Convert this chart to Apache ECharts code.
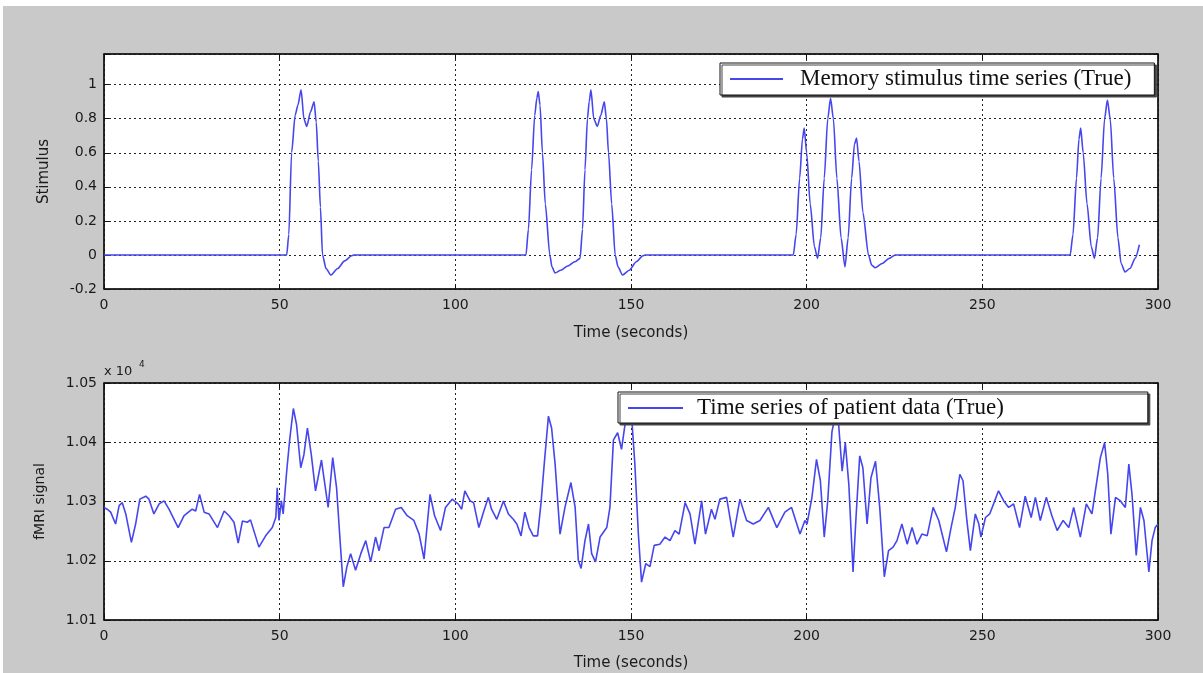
<!DOCTYPE html>
<html>
<head>
<meta charset="utf-8">
<title>Stimulus and fMRI signal</title>
<script src="https://cdn.jsdelivr.net/npm/echarts@6/dist/echarts.min.js"></script>
<style>
  html, body { margin: 0; padding: 0; background: #ffffff; }
  #main { position: absolute; left: 3px; top: 6px; width: 1200px; height: 667px; }
</style>
</head>
<body>
<div id="main"></div>
<script>
// 上图：记忆刺激时间序列（秒, 值）
var stimTime = [0, 52.0, 52.6, 53.4, 54.4, 55.2, 56.1, 56.9, 57.7, 58.8, 59.8, 60.4, 61.0, 61.6, 62.2, 63.2, 64.6, 66.5, 68.5, 70.5, 71,
  120.1, 120.8, 121.7, 122.6, 123.2, 123.6, 124.1, 124.8, 125.6, 126.9, 127.5, 128.4, 130, 132, 134, 135.5,
  136.2, 136.9, 137.6, 138.1, 138.6, 139.4, 140.4, 141.4, 142.4, 143.0, 143.6, 144.5, 145.5, 146.3, 147.6, 149.5, 151.5, 153.4, 154,
  196.2, 197.0, 198.0, 198.8, 199.3, 200.0, 201.0, 202.2, 203.1, 204.0, 205.0, 206.0, 206.8, 207.6, 208.6, 209.8, 210.9,
  211.8, 212.8, 213.6, 214.2, 214.9, 216.0, 217.6, 218.5, 219.5, 221.5, 223.5, 225.2,
  275.0, 275.8, 276.8, 277.5, 278.0, 278.7, 279.8, 281.0, 281.9, 282.8, 283.8, 284.8, 285.6, 286.4, 287.4, 288.6, 289.5, 290.6, 292.0, 293.5, 294.7];
var stimValue = [0, 0, 0.12, 0.6, 0.82, 0.88, 0.97, 0.8, 0.755, 0.84, 0.90, 0.78, 0.55, 0.28, 0, -0.08, -0.118, -0.08, -0.035, -0.005, 0,
  0, 0.15, 0.5, 0.82, 0.92, 0.96, 0.88, 0.6, 0.3, 0, -0.07, -0.106, -0.09, -0.065, -0.04, -0.02,
  0.15, 0.5, 0.8, 0.9, 0.97, 0.8, 0.755, 0.82, 0.90, 0.8, 0.6, 0.3, 0, -0.07, -0.118, -0.09, -0.04, -0.005, 0,
  0, 0.12, 0.45, 0.68, 0.745, 0.6, 0.3, 0.05, -0.02, 0.1, 0.45, 0.8, 0.92, 0.8, 0.45, 0.1, -0.07,
  0.1, 0.45, 0.65, 0.686, 0.55, 0.25, 0, -0.06, -0.075, -0.05, -0.02, 0,
  0, 0.12, 0.45, 0.68, 0.745, 0.6, 0.3, 0.05, -0.02, 0.1, 0.45, 0.8, 0.91, 0.8, 0.45, 0.1, -0.05, -0.1, -0.08, -0.02, 0.06];

// 下图：病人fMRI信号
var fmriTime = [0, 0.9, 1.9, 3.3, 4.3, 5.2, 6.2, 7.8, 9.0, 10.2, 11.9, 12.8, 14.2, 15.7, 17.1, 18.5, 21.1, 22.8, 25.1, 26.1,
  27.2, 28.5, 29.9, 32.3, 34.2, 35.6, 37.0, 38.2, 39.4, 40.8, 41.7, 44.1, 46.0, 47.9, 48.9, 49.3, 49.8, 50.5, 51.0, 52.0,
  52.9, 53.9, 54.8, 56.0, 56.9, 57.9, 59.0, 60.2, 61.9, 62.6, 63.8, 65.1, 66.2, 67.2, 68.1, 69.1, 70.2, 71.6, 73.1, 74.5,
  75.9, 77.3, 78.3, 79.7, 81.1, 83.0, 84.6, 86.3, 88.2, 89.7, 91.1, 92.8, 94.1, 95.8, 97.2, 99.1,
  99.9, 100.8, 101.8, 102.7, 104.2, 105.2, 106.7, 108.0, 109.4, 110.3, 111.8, 113.7, 115.1, 116.5, 117.5, 118.7, 119.8,
  121.0, 122.2, 123.4, 124.4, 125.3, 126.5, 127.4, 128.4, 129.8, 131.2, 132.9, 134.1, 135.0, 135.8, 136.9, 137.9, 138.8,
  139.9, 141.2, 143.1, 144.0, 145.0, 146.2, 147.3, 148.3, 149.2, 150.2, 151.1, 152.1, 153.0, 154.2, 155.4, 156.6, 158.2,
  159.7, 161.1, 162.5, 163.7, 165.4, 166.8, 168.2, 170.1, 171.2, 172.9, 173.9, 175.3, 177.2, 179.1, 181.0, 182.9, 184.8,
  186.7, 189.1, 191.5, 193.8, 195.7, 198.1, 199.5,
  200.1, 201.5, 202.8, 203.9, 205.0, 206.0, 207.2, 208.2, 209.1, 210.1, 211.0, 212.0, 213.2, 214.1, 215.1, 216.0, 217.2,
  218.3, 219.6, 220.8, 222.1, 223.3, 224.6, 225.7, 227.1, 228.6, 230.0, 231.4, 232.8, 234.3, 236.0, 237.6, 239.8, 241.1,
  242.3, 243.6, 244.5, 245.6, 246.6, 248.0, 249.0, 249.6, 250.9, 252.1, 253.2, 254.6, 256.1, 257.5, 258.9, 260.6, 262.2,
  263.9, 265.1, 266.5, 268.2, 269.8, 271.3, 273.0, 274.6, 276.0, 277.9, 279.6, 281.2, 282.6, 283.6, 284.8, 285.7, 286.6,
  287.9, 289.3, 290.7, 291.7, 292.6, 293.8, 295.0, 296.0, 297.4, 298.3, 299.2, 300.0];
var fmriValue = [10290, 10287, 10282, 10262, 10293, 10298, 10279, 10231, 10262, 10304, 10309, 10304, 10279, 10296, 10301, 10287, 10256, 10276, 10287, 10284,
  10312, 10282, 10279, 10256, 10284, 10276, 10265, 10230, 10267, 10265, 10269, 10223, 10242, 10256, 10273, 10323, 10268, 10301, 10279, 10351,
  10407, 10457, 10430, 10357, 10379, 10424, 10379, 10318, 10370, 10340, 10290, 10374, 10323, 10234, 10156, 10189, 10212, 10184, 10212, 10234,
  10198, 10240, 10217, 10256, 10256, 10287, 10290, 10276, 10268, 10245, 10203, 10312, 10276, 10251, 10290, 10304,
  10300, 10296, 10287, 10318, 10301, 10298, 10256, 10282, 10307, 10287, 10270, 10301, 10279, 10270, 10262, 10242, 10282,
  10256, 10242, 10242, 10298, 10363, 10444, 10424, 10363, 10245, 10290, 10332, 10290, 10201, 10187, 10234, 10262, 10212,
  10198, 10240, 10256, 10290, 10404, 10416, 10388, 10430, 10441, 10441, 10363, 10245, 10164, 10195, 10190, 10226, 10228,
  10240, 10234, 10251, 10245, 10298, 10279, 10228, 10301, 10245, 10287, 10270, 10304, 10307, 10240, 10304, 10268, 10262,
  10268, 10290, 10256, 10282, 10290, 10245, 10268,
  10262, 10307, 10371, 10335, 10240, 10301, 10418, 10446, 10430, 10351, 10399, 10329, 10181, 10279, 10377, 10357, 10262,
  10340, 10368, 10290, 10173, 10217, 10223, 10234, 10262, 10228, 10256, 10228, 10245, 10242, 10290, 10268, 10215, 10256,
  10290, 10346, 10335, 10268, 10217, 10279, 10262, 10240, 10273, 10279, 10296, 10318, 10301, 10290, 10296, 10256, 10309,
  10273, 10307, 10268, 10307, 10276, 10251, 10268, 10256, 10290, 10240, 10296, 10279, 10335, 10374, 10399, 10346, 10245,
  10307, 10301, 10290, 10363, 10312, 10209, 10290, 10268, 10181, 10234, 10256, 10262];

var stimName = 'Memory stimulus time series (True)';
var fmriName = 'Time series of patient data (True)';

function zip (xs, ys) {
  var out = [];
  for (var i = 0; i < xs.length; i++) {
    out.push([xs[i], ys[i]]);
  }
  return out;
}

var myChart = echarts.init(document.getElementById('main'));

var sans = 'DejaVu Sans';
var serif = 'Liberation Serif';
var lineBlue = '#4646ee';
var gridDot = { color: '#222', width: 1, type: [2, 3] };

// 主坐标轴
function mainX (gridIndex) {
  return {
    type: 'value', gridIndex: gridIndex, min: 0, max: 300, interval: 50,
    name: 'Time (seconds)', nameLocation: 'middle', nameGap: gridIndex === 0 ? 37 : 36,
    nameTextStyle: { fontFamily: sans, fontSize: 15, color: '#1a1a1a' },
    axisLine: { show: true, onZero: false, lineStyle: { color: '#111', width: 1.5 } },
    axisTick: { show: true, inside: true, length: 5, lineStyle: { color: '#111' } },
    axisLabel: { fontFamily: sans, fontSize: 14, color: '#1a1a1a', margin: 9 },
    splitLine: { show: true, lineStyle: gridDot }
  };
}
// 上/右侧镜像轴，只画刻度
function boxX (gridIndex) {
  return {
    type: 'value', gridIndex: gridIndex, position: 'top', min: 0, max: 300, interval: 50,
    axisLine: { show: true, onZero: false, lineStyle: { color: '#111', width: 1.5 } },
    axisTick: { show: true, inside: true, length: 5, lineStyle: { color: '#111' } },
    axisLabel: { show: false }, splitLine: { show: false }
  };
}
function boxY (gridIndex, min, max, interval) {
  return {
    type: 'value', gridIndex: gridIndex, position: 'right', min: min, max: max, interval: interval,
    axisLine: { show: true, onZero: false, lineStyle: { color: '#111', width: 1.5 } },
    axisTick: { show: true, inside: true, length: 5, lineStyle: { color: '#111' } },
    axisLabel: { show: false }, splitLine: { show: false }
  };
}

var option = {
  backgroundColor: '#c9c9c9',
  animation: false,
  grid: [
    { left: 101, top: 48, width: 1054, height: 235, show: true, backgroundColor: '#ffffff', borderColor: '#111', borderWidth: 1, outerBoundsMode: 'none' },
    { left: 101, top: 377, width: 1054, height: 237, show: true, backgroundColor: '#ffffff', borderColor: '#111', borderWidth: 1, outerBoundsMode: 'none' }
  ],
  legend: [
    {
      data: [stimName], left: 717, top: 57, orient: 'horizontal', icon: 'rect',
      padding: [4, 23, 4, 10], itemWidth: 53, itemHeight: 2,
      backgroundColor: '#ffffff', borderColor: '#111', borderWidth: 1,
      shadowColor: '#444', shadowOffsetX: 2, shadowOffsetY: 2, shadowBlur: 0,
      textStyle: { fontFamily: serif, fontSize: 23, color: '#111', lineHeight: 24, padding: [0, 0, 0, 12] }
    },
    {
      data: [fmriName], left: 615, top: 386, orient: 'horizontal', icon: 'rect',
      padding: [4, 144, 3, 10], itemWidth: 55, itemHeight: 2,
      backgroundColor: '#ffffff', borderColor: '#111', borderWidth: 1,
      shadowColor: '#444', shadowOffsetX: 2, shadowOffsetY: 2, shadowBlur: 0,
      textStyle: { fontFamily: serif, fontSize: 23, color: '#111', lineHeight: 24, padding: [0, 0, 0, 9] }
    }
  ],
  xAxis: [mainX(0), boxX(0), mainX(1), boxX(1)],
  yAxis: [
    {
      type: 'value', gridIndex: 0, min: -0.2, max: 1.18, interval: 0.2,
      name: 'Stimulus', nameLocation: 'middle', nameGap: 52, nameRotate: 90,
      nameTextStyle: { fontFamily: sans, fontSize: 15, color: '#1a1a1a' },
      axisLine: { show: true, onZero: false, lineStyle: { color: '#111', width: 1.5 } },
      axisTick: { show: true, inside: true, length: 5, lineStyle: { color: '#111' } },
      axisLabel: {
        fontFamily: sans, fontSize: 14, color: '#1a1a1a', margin: 7,
        formatter: function (v) {
          var r = Math.round(v * 5) / 5;
          if (Math.abs(v - r) > 1e-6) return '';
          return String(parseFloat(r.toFixed(1)));
        }
      },
      splitLine: { show: true, lineStyle: gridDot }
    },
    boxY(0, -0.2, 1.18, 0.2),
    {
      type: 'value', gridIndex: 1, min: 10100, max: 10500, interval: 100,
      name: 'fMRI signal', nameLocation: 'middle', nameGap: 57, nameRotate: 90,
      nameTextStyle: { fontFamily: sans, fontSize: 14, color: '#1a1a1a' },
      axisLine: { show: true, onZero: false, lineStyle: { color: '#111', width: 1.5 } },
      axisTick: { show: true, inside: true, length: 5, lineStyle: { color: '#111' } },
      axisLabel: {
        fontFamily: sans, fontSize: 14, color: '#1a1a1a', margin: 7,
        formatter: function (v) { return (v / 10000).toFixed(2); }
      },
      splitLine: { show: true, lineStyle: gridDot }
    },
    boxY(1, 10100, 10500, 100)
  ],
  graphic: [
    { type: 'text', left: 101, top: 359, style: { text: 'x 10', font: '13px "DejaVu Sans"', fill: '#1a1a1a' } },
    { type: 'text', left: 136, top: 354, style: { text: '4', font: '9px "DejaVu Sans"', fill: '#1a1a1a' } }
  ],
  series: [
    {
      name: stimName, type: 'line', xAxisIndex: 0, yAxisIndex: 0,
      symbol: 'none', showSymbol: false, smooth: 0.25, smoothMonotone: 'x',
      lineStyle: { color: lineBlue, width: 1.6 }, itemStyle: { color: lineBlue },
      data: zip(stimTime, stimValue)
    },
    {
      name: fmriName, type: 'line', xAxisIndex: 2, yAxisIndex: 2,
      symbol: 'none', showSymbol: false, smooth: false,
      lineStyle: { color: lineBlue, width: 1.6 }, itemStyle: { color: lineBlue },
      data: zip(fmriTime, fmriValue)
    }
  ]
};

myChart.setOption(option);
</script>
</body>
</html>
